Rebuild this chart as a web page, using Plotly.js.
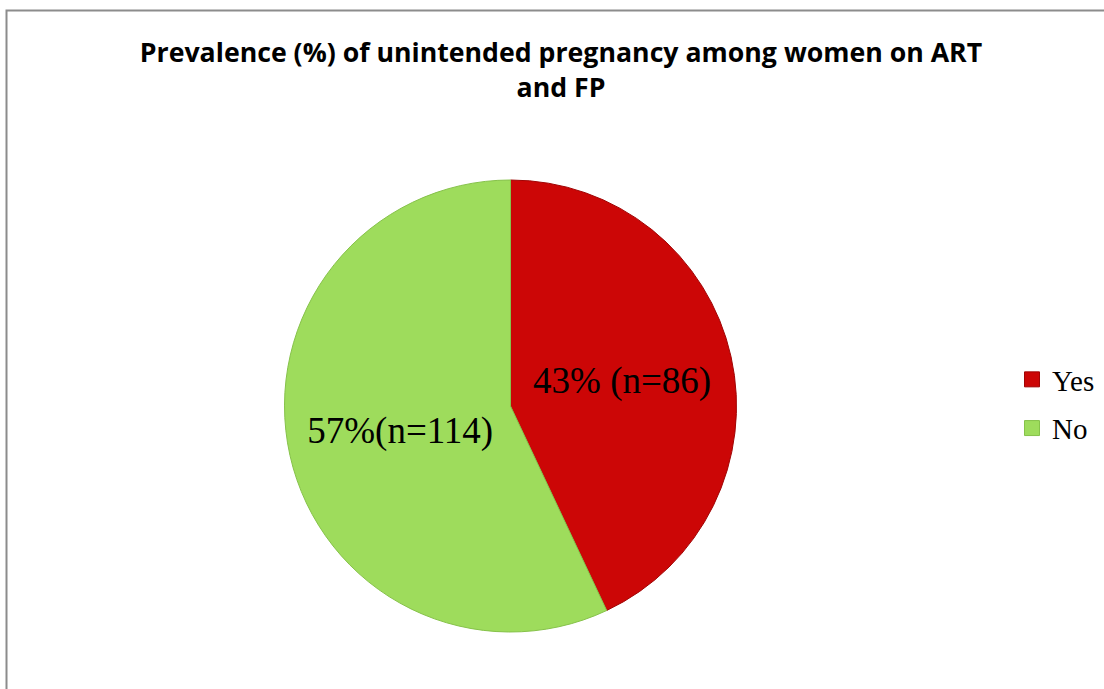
<!DOCTYPE html>
<html>
<head>
<meta charset="utf-8">
<script src="https://cdn.plot.ly/plotly-3.0.1.min.js"></script>
<style>html,body{margin:0;padding:0;background:#fff;}#chart{width:1104px;height:689px;}</style>
</head>
<body>
<div id="chart"></div>
<script>
var categories = ["Yes", "No"];
var values = [86, 114];
var sliceLabels = ["43% (n=86)", "57%(n=114)"];
var colors = ["#CC0606", "#9EDC5C"];
var edgeColors = ["#A00404", "#86C24A"];
var titleText = "Prevalence (%) of unintended pregnancy among women on ART<br>and FP";

var W = 1104, H = 689;
var traces = [{
  type: "pie",
  labels: categories,
  values: values,
  text: sliceLabels,
  textinfo: "text",
  textposition: "inside",
  insidetextorientation: "horizontal",
  sort: false,
  direction: "clockwise",
  rotation: 0,
  showlegend: false,
  hoverinfo: "label+value+percent",
  marker: {colors: colors, line: {color: edgeColors, width: 1}},
  textfont: {family: "Liberation Serif, Times New Roman, serif", size: 37, color: "#000"},
  domain: {x: [284 / W, 737 / W], y: [(H - 632) / H, (H - 180) / H]}
}];
categories.forEach(function (c, i) {
  traces.push({
    type: "scatter", x: [null], y: [null], mode: "markers", name: c,
    legendgroup: c, showlegend: true,
    marker: {symbol: "square", size: 15, color: colors[i], line: {color: edgeColors[i], width: 1}}
  });
});

var layout = {
  width: W, height: H,
  margin: {l: 0, r: 0, t: 0, b: 0},
  paper_bgcolor: "#fff", plot_bgcolor: "rgba(0,0,0,0)",
  xaxis: {visible: false}, yaxis: {visible: false},
  title: {
    text: titleText,
    font: {family: "Open Sans, sans-serif", size: 26.7, color: "#000", weight: "bold"},
    x: 561 / W, xanchor: "center", xref: "container",
    y: 1 - 62 / H, yanchor: "top", yref: "container"
  },
  legend: {
    x: 1012 / W, xanchor: "left", y: 1 - 354 / H, yanchor: "top",
    font: {family: "Liberation Serif, Times New Roman, serif", size: 29, color: "#000"},
    tracegroupgap: 8, itemwidth: 30, bgcolor: "rgba(0,0,0,0)"
  },
  shapes: [{
    type: "rect", xref: "paper", yref: "paper",
    x0: 6.5 / W, x1: 1.02, y0: -0.02, y1: 1 - 10.5 / H,
    line: {color: "#8C8C8C", width: 2}, fillcolor: "rgba(0,0,0,0)"
  }]
};
Plotly.newPlot("chart", traces, layout, {displayModeBar: false});
</script>
</body>
</html>
